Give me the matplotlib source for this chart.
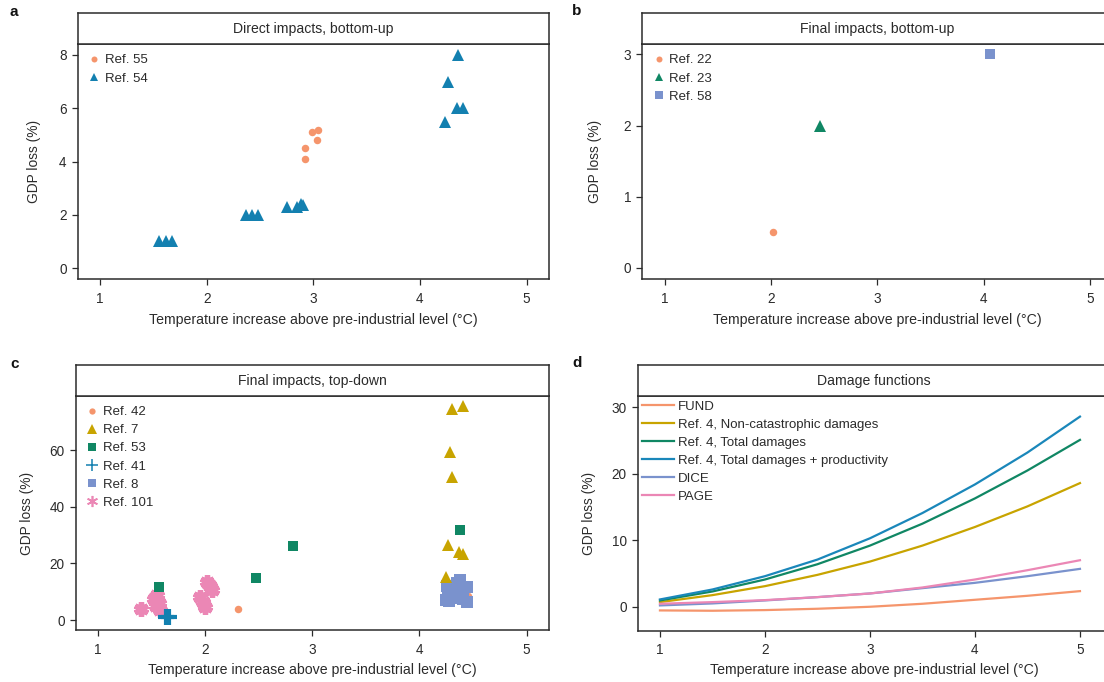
import matplotlib
matplotlib.use("Agg")
import matplotlib.pyplot as plt
from matplotlib.lines import Line2D

plt.rcParams['font.family'] = ['Liberation Sans', 'DejaVu Sans']
plt.rcParams['font.size'] = 9

# colours used throughout
ORANGE = '#F5956C'
BLUE = '#1380B0'
GREEN = '#108764'
GOLD = '#C8A400'
LAVENDER = '#7A92CD'
PINK = '#EB87B5'
INK = '#2B2B2B'

XLABEL = 'Temperature increase above pre-industrial level (\u00b0C)'
YLABEL = 'GDP loss (%)'

# panel a: direct impacts, bottom-up
a_ref55_x = [2.92, 2.92, 2.99, 3.04, 3.03]
a_ref55_y = [4.1, 4.5, 5.1, 5.2, 4.8]
a_ref54_x = [1.55, 1.62, 1.67, 2.37, 2.42, 2.48, 2.75, 2.85, 2.88, 2.90, 4.23, 4.26, 4.36, 4.35, 4.40]
a_ref54_y = [1.0, 1.0, 1.0, 2.0, 2.0, 2.0, 2.3, 2.3, 2.4, 2.35, 5.5, 7.0, 8.0, 6.0, 6.0]

# panel b: final impacts, bottom-up
b_ref22_x, b_ref22_y = [2.02], [0.5]
b_ref23_x, b_ref23_y = [2.46], [2.0]
b_ref58_x, b_ref58_y = [4.06], [3.0]

# panel c: final impacts, top-down
c_ref42_x = [2.31, 4.45]
c_ref42_y = [3.9, 8.5]
c_ref7_x = [4.30, 4.41, 4.29, 4.30, 4.27, 4.37, 4.41, 4.25]
c_ref7_y = [74.5, 75.6, 59.4, 50.4, 26.5, 24.1, 23.3, 15.3]
c_ref53_x = [1.57, 2.47, 2.82, 4.38]
c_ref53_y = [11.8, 14.9, 26.0, 31.8]
c_ref41_x = [1.63, 1.66]
c_ref41_y = [1.0, 1.1]
c_ref8_x = [4.25, 4.27, 4.30, 4.33, 4.38, 4.40, 4.44, 4.44, 4.26, 4.35, 4.28, 4.41]
c_ref8_y = [7.1, 10.6, 9.4, 7.7, 14.1, 9.0, 11.8, 6.5, 12.0, 13.0, 6.8, 7.5]
c_ref101_x = [1.40, 1.52, 1.55, 1.54, 1.58, 1.57, 1.95, 1.98, 2.00, 2.02, 2.04, 2.06]
c_ref101_y = [4.0, 7.5, 9.0, 5.0, 3.5, 6.0, 8.0, 6.5, 4.5, 13.5, 12.0, 10.5]

# panel d: damage functions
d_temp = [1.0, 1.5, 2.0, 2.5, 3.0, 3.5, 4.0, 4.5, 5.0]
d_fund = [-0.55, -0.6, -0.5, -0.3, 0.0, 0.45, 1.05, 1.65, 2.35]
d_noncat = [0.7, 1.75, 3.1, 4.8, 6.8, 9.2, 12.0, 15.1, 18.6]
d_total = [0.95, 2.3, 4.1, 6.4, 9.2, 12.5, 16.3, 20.5, 25.1]
d_totprod = [1.1, 2.6, 4.6, 7.1, 10.3, 14.1, 18.4, 23.2, 28.6]
d_dice = [0.2, 0.5, 0.95, 1.45, 2.0, 2.8, 3.6, 4.6, 5.7]
d_page = [0.45, 0.7, 1.0, 1.45, 2.0, 2.9, 4.1, 5.5, 7.0]

W, H = 1104, 682
fig = plt.figure(figsize=(W / 100, H / 100), dpi=100)


def box(l, t, r, b):
    return [l / W, 1 - b / H, (r - l) / W, (b - t) / H]


def make_panel(l, r, head_top, top, bottom, title, letter, letter_xy, ylab_x, xlab_y):
    ax = fig.add_axes(box(l, top, r, bottom))
    hx = fig.add_axes(box(l, head_top, r, top))
    for a in (ax, hx):
        for s in a.spines.values():
            s.set_color(INK)
            s.set_linewidth(1.1)
    hx.set_xticks([])
    hx.set_yticks([])
    hx.text(0.5, 0.5, title, ha='center', va='center', color=INK, fontsize=10.1,
            transform=hx.transAxes)
    ax.tick_params(direction='out', length=4, width=0.9, color=INK, labelcolor=INK,
                   labelsize=9.8)
    ax.tick_params(axis='x', pad=5)
    ax.tick_params(axis='y', pad=4)
    ax.set_xlim(0.79, 5.21)
    ax.set_xticks([1, 2, 3, 4, 5])
    fig.text(letter_xy[0] / W, 1 - letter_xy[1] / H, letter, fontweight='bold',
             fontsize=11, ha='center', va='center', color='#111111')
    fig.text(ylab_x / W, 1 - (top + bottom) / 2 / H, YLABEL, rotation=90,
             ha='center', va='center', fontsize=9.9, color=INK)
    fig.text((l + r) / 2 / W, 1 - xlab_y / H, XLABEL, ha='center', va='center',
             fontsize=10.2, color=INK)
    return ax


def add_legend(ax, **kw):
    opts = dict(loc='upper left', frameon=False, fontsize=9.5, labelcolor=INK,
                borderaxespad=0.25)
    opts.update(kw)
    return ax.legend(**opts)


# ---- a
ax = make_panel(77.7, 549, 13.3, 44.3, 279, 'Direct impacts, bottom-up', 'a',
                (14, 12), 34, 320)
ax.plot(a_ref55_x, a_ref55_y, 'o', color=ORANGE, ms=5.4, mew=0, label='Ref. 55')
ax.plot(a_ref54_x, a_ref54_y, '^', color=BLUE, ms=8, mew=0, label='Ref. 54')
ax.set_ylim(-0.41, 8.40)
ax.set_yticks([0, 2, 4, 6, 8])
add_legend(ax, markerscale=0.8, handlelength=1.0, handletextpad=0.3,
           labelspacing=0.45, borderpad=0.5)

# ---- b (right edge runs past the figure, as in the original)
ax = make_panel(642.3, 1112.6, 13.3, 44.3, 279, 'Final impacts, bottom-up', 'b',
                (577, 11), 595, 320)
ax.plot(b_ref22_x, b_ref22_y, 'o', color=ORANGE, ms=5.4, mew=0, label='Ref. 22')
ax.plot(b_ref23_x, b_ref23_y, '^', color=GREEN, ms=8, mew=0, label='Ref. 23')
ax.plot(b_ref58_x, b_ref58_y, 's', color=LAVENDER, ms=6.5, mew=0, label='Ref. 58')
ax.set_ylim(-0.155, 3.14)
ax.set_yticks([0, 1, 2, 3])
add_legend(ax, markerscale=0.8, handlelength=1.0, handletextpad=0.3,
           labelspacing=0.45, borderpad=0.5)

# ---- c
ax = make_panel(75.7, 549, 365, 396, 630, 'Final impacts, top-down', 'c',
                (15, 364), 27, 670)
ax.plot(c_ref42_x, c_ref42_y, 'o', color=ORANGE, ms=5.4, mew=0)
ax.plot(c_ref101_x, c_ref101_y, ls='none', marker=(6, 2, 0), color=PINK, ms=10.5, mew=3.8)
ax.plot(c_ref41_x, c_ref41_y, '+', color=BLUE, ms=11, mew=3)
ax.plot(c_ref53_x, c_ref53_y, 's', color=GREEN, ms=7, mew=0)
ax.plot(c_ref8_x, c_ref8_y, 's', color=LAVENDER, ms=8, mew=0)
ax.plot(c_ref7_x, c_ref7_y, '^', color=GOLD, ms=8, mew=0)
ax.set_ylim(-3.5, 79.1)
ax.set_yticks([0, 20, 40, 60])
c_handles = [
    Line2D([], [], ls='none', marker='o', color=ORANGE, ms=4.5, mew=0),
    Line2D([], [], ls='none', marker='^', color=GOLD, ms=6.5, mew=0),
    Line2D([], [], ls='none', marker='s', color=GREEN, ms=5.5, mew=0),
    Line2D([], [], ls='none', marker='+', color=BLUE, ms=8, mew=1.1),
    Line2D([], [], ls='none', marker='s', color=LAVENDER, ms=5.5, mew=0),
    Line2D([], [], ls='none', marker=(6, 2, 0), color=PINK, ms=8, mew=1.2),
]
c_labels = ['Ref. 42', 'Ref. 7', 'Ref. 53', 'Ref. 41', 'Ref. 8', 'Ref. 101']
add_legend(ax, handles=c_handles, labels=c_labels, handlelength=1.0,
           handletextpad=0.3, labelspacing=0.45, borderpad=0.5)

# ---- d
ax = make_panel(637.7, 1110, 365, 396, 630.7, 'Damage functions', 'd',
                (577, 363), 589, 670)
ax.set_xlim(0.788, 5.286)
ax.plot(d_temp, d_fund, color=ORANGE, lw=1.6, label='FUND')
ax.plot(d_temp, d_noncat, color=GOLD, lw=1.6, label='Ref. 4, Non-catastrophic damages')
ax.plot(d_temp, d_total, color=GREEN, lw=1.6, label='Ref. 4, Total damages')
ax.plot(d_temp, d_totprod, color='#1A87BA', lw=1.6,
        label='Ref. 4, Total damages + productivity')
ax.plot(d_temp, d_dice, color=LAVENDER, lw=1.6, label='DICE')
ax.plot(d_temp, d_page, color=PINK, lw=1.6, label='PAGE')
ax.set_ylim(-3.6, 31.7)
ax.set_yticks([0, 10, 20, 30])
add_legend(ax, handlelength=2.4, handletextpad=0.3, labelspacing=0.44,
           borderpad=0.15, borderaxespad=0.2)

fig.savefig('out.png', dpi=100)
